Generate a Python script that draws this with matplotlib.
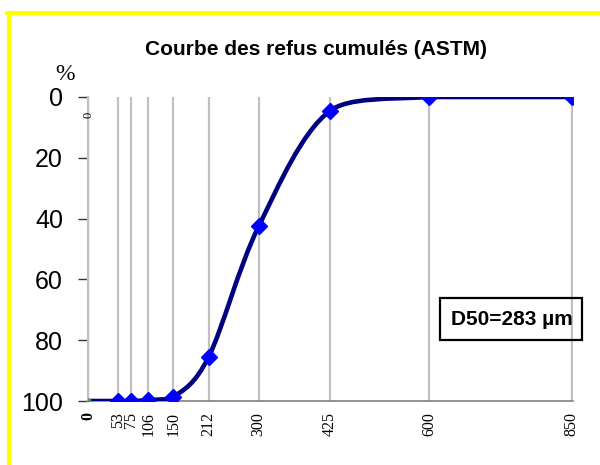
import matplotlib
matplotlib.use("Agg")
import matplotlib.pyplot as plt
import numpy as np
from matplotlib.path import Path
from matplotlib.patches import PathPatch, Rectangle
from matplotlib.lines import Line2D

# sieve openings (µm) and cumulative retained (%)
tamis = [0, 53, 75, 106, 150, 212, 300, 425, 600, 850]
refus = [100, 100, 100, 99.7, 98.7, 85.5, 42.5, 4.6, 0, 0]
tick_labels = ["0", "53", "75", "106", "150", "212", "300", "425", "600", "850"]
y_ticks = [0, 20, 40, 60, 80, 100]
titre = "Courbe des refus cumulés (ASTM)"
d50_text = "D50=283 µm"


def handle(p_from, vec, seg_dy):
    # keep the bezier handle from overshooting the segment vertically
    if abs(vec[1]) > abs(seg_dy) and abs(vec[1]) > 0:
        vec = vec * abs(seg_dy) / abs(vec[1])
    return p_from + vec


def smooth_path(xs, ys):
    # Excel-like smoothed line: cubic Bezier segments through every point
    pts = np.column_stack([xs, ys]).astype(float)
    n = len(pts)
    verts = [pts[0]]
    codes = [Path.MOVETO]
    for i in range(n - 1):
        p0 = pts[i - 1] if i > 0 else pts[i]
        p1, p2 = pts[i], pts[i + 1]
        p3 = pts[i + 2] if i + 2 < n else pts[i + 1]
        dy = p2[1] - p1[1]
        c1 = handle(p1, (p2 - p0) / 6, dy)
        c2 = handle(p2, -(p3 - p1) / 6, dy)
        verts += [c1, c2, p2]
        codes += [Path.CURVE4] * 3
    return Path(verts, codes)


fig = plt.figure(figsize=(6, 4.65), dpi=100)
ax = fig.add_axes([0.1467, 0.1376, 0.808, 0.6538])

ax.set_xlim(0, 852)
ax.set_ylim(100, 0)

# vertical grid at each sieve size
for x in tamis:
    ax.axvline(x, color="#c0c0c0", lw=1.6, zorder=1)

ax.add_patch(PathPatch(smooth_path(tamis, refus), fill=False,
                       edgecolor="#000080", lw=3.3, zorder=3))
ax.plot(tamis[1:], refus[1:], ls="none", marker="D", ms=8,
        color="#0000ff", zorder=4)
ax.plot(tamis[:1], refus[:1], ls="none", marker="s", ms=3,
        color="#3a9a5a", zorder=5)

for s in ["top", "right"]:
    ax.spines[s].set_visible(False)
ax.spines["left"].set_color("#c0c0c0")
ax.spines["left"].set_linewidth(1.6)
ax.spines["bottom"].set_color("#808080")
ax.spines["bottom"].set_linewidth(1.2)

ax.set_yticks(y_ticks)
ax.set_yticklabels([str(v) for v in y_ticks], fontsize=18,
                   family="Liberation Sans")
ax.tick_params(axis="y", length=7, width=1, color="#333333", pad=11)

ax.set_xticks(tamis)
ax.set_xticklabels(tick_labels, rotation=90, fontsize=11.5,
                   family="Liberation Serif")
ax.get_xticklabels()[0].set_fontweight("bold")
ax.tick_params(axis="x", length=0, pad=8)

ax.text(0, 6, "0", rotation=90, fontsize=9, family="Liberation Serif",
        ha="center", va="center")

fig.text(0.527, 0.893, titre, fontsize=15, fontweight="bold",
         family="Liberation Sans", ha="center", va="center")
fig.text(0.108, 0.84, "%", fontsize=17, family="Liberation Serif",
         ha="center", va="center")

fig.patches.append(Rectangle((0.7333, 0.2688), 0.237, 0.0903,
                             transform=fig.transFigure, fill=False,
                             edgecolor="black", lw=1.6))
fig.text(0.853, 0.313, d50_text, fontsize=15, fontweight="bold",
         family="Liberation Sans", ha="center", va="center")

# yellow frame (top and left edges)
fig.lines.append(Line2D([0.0117, 1.0], [0.972, 0.972], transform=fig.transFigure,
                        color="#ffff00", lw=3))
fig.lines.append(Line2D([0.015, 0.015], [0.0, 0.972], transform=fig.transFigure,
                        color="#ffff00", lw=3))

fig.savefig("out.png", dpi=100, facecolor="white")
